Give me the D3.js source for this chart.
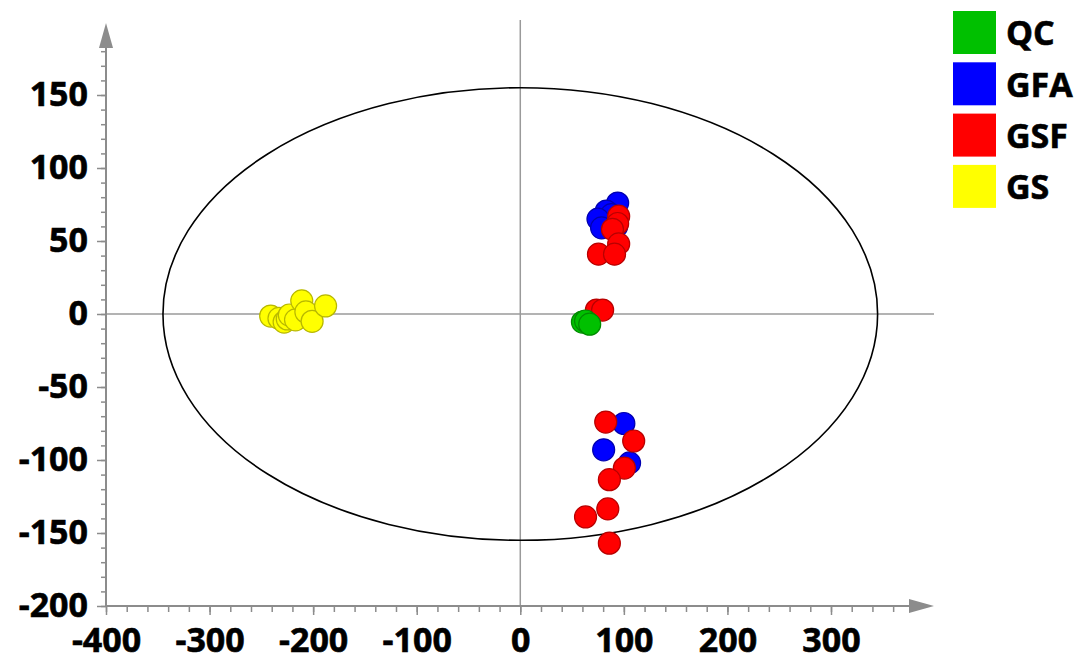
<!DOCTYPE html>
<html>
<head>
<meta charset="utf-8">
<script src="https://cdn.jsdelivr.net/npm/d3@7"></script>
<style>
    body { margin: 0; background: #fff; }
    svg text { font-family: "Open Sans", "Noto Sans", sans-serif; font-weight: bold; fill: #000; stroke: #000; stroke-width: 0.6px; }
    .tick-label { font-size: 34px; }
    .legend-label { font-size: 34px; }
</style>
</head>
<body>
<svg id="chart" width="1075" height="663"></svg>
<script>
(function () {
    "use strict";

    // groups, in legend order
    const groups = ["QC", "GFA", "GSF", "GS"];
    const groupColors = ["#00c000", "#0000ff", "#ff0000", "#ffff00"];
    const groupStrokes = ["#008a00", "#0000b0", "#b80000", "#b8b800"];

    // score points [t1, t2] per group
    const qcPoints = [[60, -5.5], [63, -4.8], [67, -7]];
    const gfaPoints = [
        [94, 76], [83, 70.5], [88, 68], [75, 65], [78.5, 59], [93, 60],
        [100, -75], [80.5, -93], [105.5, -102]
    ];
    const gsfPoints = [
        [95, 67], [94, 62], [89, 58], [95, 48], [75.5, 41], [91, 41],
        [73.5, 2.7], [79.5, 2.7],
        [82.5, -74], [109.5, -87], [100.5, -105.5], [86, -113.5],
        [84.5, -133.5], [63, -139], [86, -157]
    ];
    const gsPoints = [
        [-241, -1.4], [-233, -3], [-228, -5.5], [-225, -3.4], [-223, -0.7],
        [-217, -4], [-211, 9], [-207, 1.4], [-201, -5], [-188, 5.5]
    ];

    // axis ticks
    const xMajorTicks = [-400, -300, -200, -100, 0, 100, 200, 300];
    const yMajorTicks = [-200, -150, -100, -50, 0, 50, 100, 150];
    const xMinorTicks = d3.range(-400, 361, 20);
    const yMinorTicks = d3.range(-200, 181, 10);

    // Hotelling T2 ellipse semi-axes (data units)
    const ellipseRx = 345;
    const ellipseRy = 155;

    const svg = d3.select("#chart");

    const x = d3.scaleLinear().domain([-400, 300]).range([106, 831]);
    const y = d3.scaleLinear().domain([-200, 150]).range([606, 95]);

    const axisColor = "#8c8c8c";
    const xEnd = 934, yTop = 23;
    const fmt = d => String(d); // plain hyphen for negatives

    // zero cross lines
    svg.append("line")
        .attr("x1", x(0)).attr("x2", x(0))
        .attr("y1", 20).attr("y2", y(-200))
        .attr("stroke", "#9a9a9a").attr("stroke-width", 1.5);
    svg.append("line")
        .attr("x1", x(-400)).attr("x2", xEnd)
        .attr("y1", y(0)).attr("y2", y(0))
        .attr("stroke", "#9a9a9a").attr("stroke-width", 1.5);

    // ellipse
    svg.append("ellipse")
        .attr("cx", x(0)).attr("cy", y(0))
        .attr("rx", x(ellipseRx) - x(0))
        .attr("ry", y(0) - y(ellipseRy))
        .attr("fill", "none")
        .attr("stroke", "#000")
        .attr("stroke-width", 1.6);

    // X axis
    const xAxisG = svg.append("g").attr("transform", `translate(0,${y(-200)})`);
    xAxisG.call(d3.axisBottom(x).tickValues(xMinorTicks).tickSize(6).tickFormat(""));
    xAxisG.call(g => g.select(".domain").remove());
    const xMajorG = svg.append("g").attr("transform", `translate(0,${y(-200)})`);
    xMajorG.call(d3.axisBottom(x).tickValues(xMajorTicks).tickSize(9).tickPadding(13).tickFormat(fmt));
    xMajorG.call(g => g.select(".domain").remove());
    xMajorG.selectAll("text").attr("class", "tick-label").attr("fill", "#000");
    svg.append("line")
        .attr("x1", x(-400)).attr("x2", xEnd - 24)
        .attr("y1", y(-200)).attr("y2", y(-200))
        .attr("stroke", axisColor).attr("stroke-width", 2);
    svg.append("path")
        .attr("d", `M${xEnd},${y(-200)} L${xEnd - 25},${y(-200) - 7} L${xEnd - 25},${y(-200) + 7} Z`)
        .attr("fill", axisColor);

    // Y axis
    const yAxisG = svg.append("g").attr("transform", `translate(${x(-400)},0)`);
    yAxisG.call(d3.axisLeft(y).tickValues(yMinorTicks).tickSize(5).tickFormat(""));
    yAxisG.call(g => g.select(".domain").remove());
    const yMajorG = svg.append("g").attr("transform", `translate(${x(-400)},0)`);
    yMajorG.call(d3.axisLeft(y).tickValues(yMajorTicks).tickSize(9).tickPadding(9).tickFormat(fmt));
    yMajorG.call(g => g.select(".domain").remove());
    yMajorG.selectAll("text").attr("class", "tick-label").attr("fill", "#000");
    svg.append("line")
        .attr("x1", x(-400)).attr("x2", x(-400))
        .attr("y1", y(-200)).attr("y2", yTop + 24)
        .attr("stroke", axisColor).attr("stroke-width", 2);
    svg.append("path")
        .attr("d", `M${x(-400)},${yTop} L${x(-400) - 7},${yTop + 25} L${x(-400) + 7},${yTop + 25} Z`)
        .attr("fill", axisColor);

    svg.selectAll(".tick line").attr("stroke", axisColor).attr("stroke-width", 1.5);

    // points (drawing order: GS, GFA, GSF, QC)
    const layers = [
        { pts: gsPoints, i: 3 },
        { pts: gfaPoints, i: 1 },
        { pts: gsfPoints, i: 2 },
        { pts: qcPoints, i: 0 }
    ];
    layers.forEach(function (layer) {
        svg.append("g").selectAll("circle")
            .data(layer.pts)
            .enter()
            .append("circle")
            .attr("cx", d => x(d[0]))
            .attr("cy", d => y(d[1]))
            .attr("r", 11)
            .attr("fill", groupColors[layer.i])
            .attr("stroke", groupStrokes[layer.i])
            .attr("stroke-width", 1.2);
    });

    // legend
    const legend = svg.append("g").attr("transform", "translate(953,11)");
    groups.forEach(function (name, i) {
        const row = legend.append("g").attr("transform", `translate(0,${i * 51.3})`);
        row.append("rect")
            .attr("width", 43).attr("height", 43)
            .attr("fill", groupColors[i]);
        row.append("text")
            .attr("class", "legend-label")
            .attr("x", 53).attr("y", 22)
            .attr("dy", "0.36em")
            .text(name);
    });
})();
</script>
</body>
</html>
